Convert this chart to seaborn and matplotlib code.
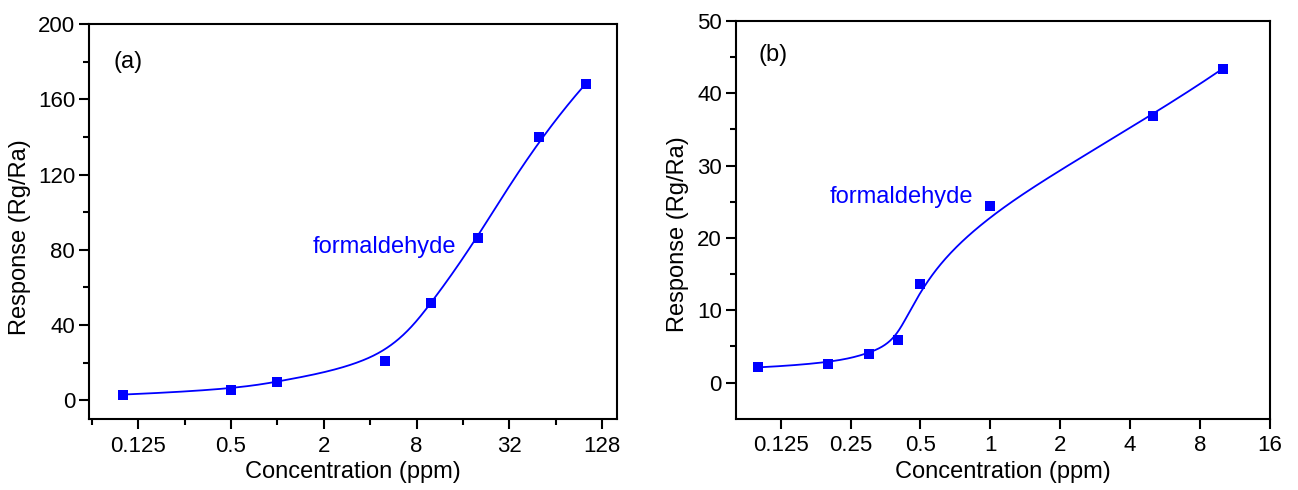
import numpy as np
import pandas as pd
import matplotlib
matplotlib.use("Agg")
import matplotlib.pyplot as plt
import seaborn as sns
from matplotlib.ticker import FixedLocator, FixedFormatter, NullFormatter

# ---------------- data ----------------
conc_a = [0.1, 0.5, 1, 5, 10, 20, 50, 100]
resp_a = [3.0, 5.5, 9.8, 20.8, 51.6, 86.2, 140.2, 168.3]

conc_b = [0.1, 0.2, 0.3, 0.4, 0.5, 1, 5, 10]
resp_b = [2.1, 2.6, 3.9, 5.9, 13.6, 24.4, 36.8, 43.4]

xticks_a = [0.125, 0.5, 2, 8, 32, 128]
xticklabels_a = ["0.125", "0.5", "2", "8", "32", "128"]
xminor_a = [0.0625, 0.25, 1, 4, 16, 64]
yticks_a = [0, 40, 80, 120, 160, 200]
yminor_a = [20, 60, 100, 140, 180]

xticks_b = [0.125, 0.25, 0.5, 1, 2, 4, 8, 16]
xticklabels_b = ["0.125", "0.25", "0.5", "1", "2", "4", "8", "16"]
yticks_b = [0, 10, 20, 30, 40, 50]
yminor_b = [5, 15, 25, 35, 45]

series_label = "formaldehyde"
xlabel = "Concentration (ppm)"
ylabel = "Response (Rg/Ra)"


def bspline(xs, ys, k=3, n=400):
    """Clamped uniform cubic B-spline using the data points as control points
    (evaluated in log2(x) space, as drawn by the original software)."""
    cx = np.log2(np.asarray(xs, float))
    cy = np.asarray(ys, float)
    m = len(cx)
    knots = np.concatenate([np.zeros(k), np.linspace(0, 1, m - k + 1), np.ones(k)])
    t = np.linspace(0, 1, n)
    t[-1] -= 1e-12
    N = np.array([((knots[i] <= t) & (t < knots[i + 1])).astype(float)
                  for i in range(len(knots) - 1)])
    for p in range(1, k + 1):
        newN = []
        for i in range(len(knots) - 1 - p):
            d1 = knots[i + p] - knots[i]
            d2 = knots[i + p + 1] - knots[i + 1]
            a = (t - knots[i]) / d1 * N[i] if d1 > 0 else 0 * t
            b = (knots[i + p + 1] - t) / d2 * N[i + 1] if d2 > 0 else 0 * t
            newN.append(a + b)
        N = np.array(newN)
    B = N.T
    return 2 ** (B @ cx), B @ cy


sns.set_style("ticks")
plt.rcParams["font.family"] = ["Liberation Sans", "DejaVu Sans"]
plt.rcParams["axes.linewidth"] = 1.5
plt.rcParams["text.color"] = "black"
plt.rcParams["axes.labelcolor"] = "black"
plt.rcParams["xtick.color"] = "black"
plt.rcParams["ytick.color"] = "black"

fig = plt.figure(figsize=(12.98, 4.90), dpi=100)
ax_a = fig.add_axes([0.0686, 0.1449, 0.4068, 0.8055])
ax_b = fig.add_axes([0.5668, 0.1455, 0.4116, 0.8116])

blue = "#0000FF"


def draw(ax, xs, ys, tag, xlim, ylim, xt, xtl, xmin, yt, ymin, txt_pos, tag_pos,
         ylab_xy):
    cx, cy = bspline(xs, ys)
    curve = pd.DataFrame({"x": cx, "y": cy})
    pts = pd.DataFrame({"x": xs, "y": ys})
    sns.lineplot(data=curve, x="x", y="y", sort=False, estimator=None,
                 color=blue, lw=1.3, ax=ax)
    sns.scatterplot(data=pts, x="x", y="y", marker="s", s=44, color=blue,
                    edgecolor=blue, linewidth=0, ax=ax, zorder=3)
    ax.set_xscale("log", base=2)
    ax.set_xlim(*xlim)
    ax.set_ylim(*ylim)
    ax.xaxis.set_major_locator(FixedLocator(xt))
    ax.xaxis.set_major_formatter(FixedFormatter(xtl))
    ax.xaxis.set_minor_locator(FixedLocator(xmin))
    ax.xaxis.set_minor_formatter(NullFormatter())
    ax.yaxis.set_major_locator(FixedLocator(yt))
    ax.yaxis.set_minor_locator(FixedLocator(ymin))
    ax.tick_params(axis="both", which="major", direction="out", length=7,
                   width=1.5, labelsize=16, color="black", labelcolor="black")
    ax.tick_params(axis="both", which="minor", direction="out", length=4,
                   width=1.5, color="black")
    ax.tick_params(axis="x", which="major", pad=5)
    ax.tick_params(axis="y", which="major", pad=3)
    for s in ax.spines.values():
        s.set_visible(True)
        s.set_linewidth(1.5)
        s.set_color("black")
    ax.set_xlabel(xlabel, fontsize=17, labelpad=3, color="black")
    ax.set_ylabel(ylabel, fontsize=17, color="black")
    ax.yaxis.set_label_coords(*ylab_xy)
    ax.text(txt_pos[0], txt_pos[1], series_label, color=blue, fontsize=17,
            transform=ax.transAxes, ha="left", va="baseline")
    ax.text(tag_pos[0], tag_pos[1], tag, color="black", fontsize=17,
            transform=ax.transAxes, ha="left", va="center")


draw(ax_a, conc_a, resp_a, "(a)", (0.06, 160), (-10, 200),
     xticks_a, xticklabels_a, xminor_a, yticks_a, yminor_a,
     (0.424, 0.420), (0.047, 0.904), (-0.110, 0.46))
draw(ax_b, conc_b, resp_b, "(b)", (0.08, 16), (-5, 50),
     xticks_b, xticklabels_b, [], yticks_b, yminor_b,
     (0.175, 0.542), (0.042, 0.9145), (-0.087, 0.465))

fig.savefig("out.png", dpi=100)
